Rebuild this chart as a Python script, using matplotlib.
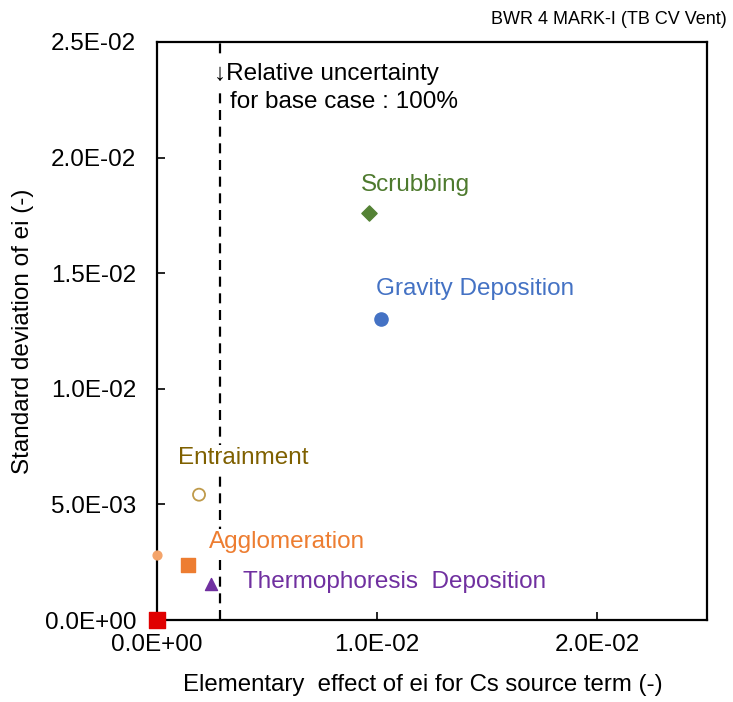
import matplotlib
matplotlib.use("Agg")
import matplotlib.pyplot as plt

plt.rcParams['font.family'] = ['Liberation Sans', 'DejaVu Sans']

# Morris screening results: mean elementary effect vs. standard deviation
names = ["Scrubbing", "Gravity Deposition", "Entrainment", "Agglomeration",
         "Thermophoresis  Deposition", "Other (small)", "Other (zero)"]
mu = [9.64e-3, 10.17e-3, 1.91e-3, 1.41e-3, 2.45e-3, 0.0, 0.0]
sigma = [17.62e-3, 13.04e-3, 5.42e-3, 2.38e-3, 1.56e-3, 2.82e-3, 0.0]
base_case = 2.86e-3

x_ticks = [0.0, 0.01, 0.02]
y_ticks = [0.0, 0.005, 0.01, 0.015, 0.02, 0.025]
tick_labels_x = ["0.0E+00", "1.0E-02", "2.0E-02"]
tick_labels_y = ["0.0E+00", "5.0E-03", "1.0E-02", "1.5E-02", "2.0E-02", "2.5E-02"]

fig = plt.figure(figsize=(7.33, 7.02), dpi=100)
ax = fig.add_axes([0.2142, 0.1168, 0.7503, 0.8234])
ax.set_xlim(0, 0.025)
ax.set_ylim(0, 0.025)

styles = [
    dict(marker="D", fc="#548235", ec="#548235", s=60),
    dict(marker="o", fc="#4472C4", ec="#4472C4", s=90),
    dict(marker="o", fc="none", ec="#BF9A4A", s=75, lw=1.3),
    dict(marker="s", fc="#ED7D31", ec="#ED7D31", s=95),
    dict(marker="^", fc="#7030A0", ec="#7030A0", s=75),
    dict(marker="o", fc="#F4A46A", ec="#F4A46A", s=40),
    dict(marker="s", fc="#E00000", ec="#E00000", s=120),
]
for x, y, st in zip(mu, sigma, styles):
    st = dict(st)
    fc = st.pop("fc")
    ec = st.pop("ec")
    ax.scatter([x], [y], facecolors=fc, edgecolors=ec, zorder=5,
               clip_on=False, **st)

ax.axvline(base_case, color="black", lw=1.6, ls=(0, (4.5, 3)), zorder=1)

label_fs = 17.5
box = dict(facecolor="white", edgecolor="none", pad=1.5)
label_colors = ["#4E7A2E", "#4472C4", "#7F6000", "#ED7D31", "#7030A0"]
# label offsets from each marker, in points
label_offsets = [(-6, 20), (-3.5, 21.5), (-15, 26.5), (15, 16.5), (23, 1.5)]
for i in range(5):
    ax.annotate(names[i], (mu[i], sigma[i]), xytext=label_offsets[i],
                textcoords="offset points", color=label_colors[i],
                fontsize=label_fs, ha="left", va="center", bbox=box, zorder=3)

note_box = dict(facecolor="white", edgecolor="none", pad=3)
ax.annotate("\u2193Relative uncertainty", (base_case, 0.025), xytext=(-4.5, -23),
            textcoords="offset points", fontsize=label_fs, ha="left",
            va="center", bbox=note_box, zorder=3)
ax.annotate("for base case : 100%", (base_case, 0.025), xytext=(7, -43.5),
            textcoords="offset points", fontsize=label_fs, ha="left",
            va="center", bbox=note_box, zorder=3)

ax.set_xticks(x_ticks)
ax.set_xticklabels(tick_labels_x)
ax.set_yticks(y_ticks)
ax.set_yticklabels(tick_labels_y)
ax.tick_params(direction="in", length=6, width=1.2, labelsize=17.5)
ax.tick_params(axis="y", pad=15)
ax.tick_params(axis="x", pad=10)
for sp in ax.spines.values():
    sp.set_linewidth(1.6)

ax.set_xlabel("Elementary  effect of ei for Cs source term (-)", fontsize=17.3)
ax.xaxis.set_label_coords(0.484, -0.093)
ax.set_ylabel("Standard deviation of ei (-)", fontsize=17.5, labelpad=8)

fig.text(0.992, 0.972, "BWR 4 MARK-I (TB CV Vent)", fontsize=13, ha="right", va="center")

fig.savefig("out.png", dpi=100, facecolor="white")
